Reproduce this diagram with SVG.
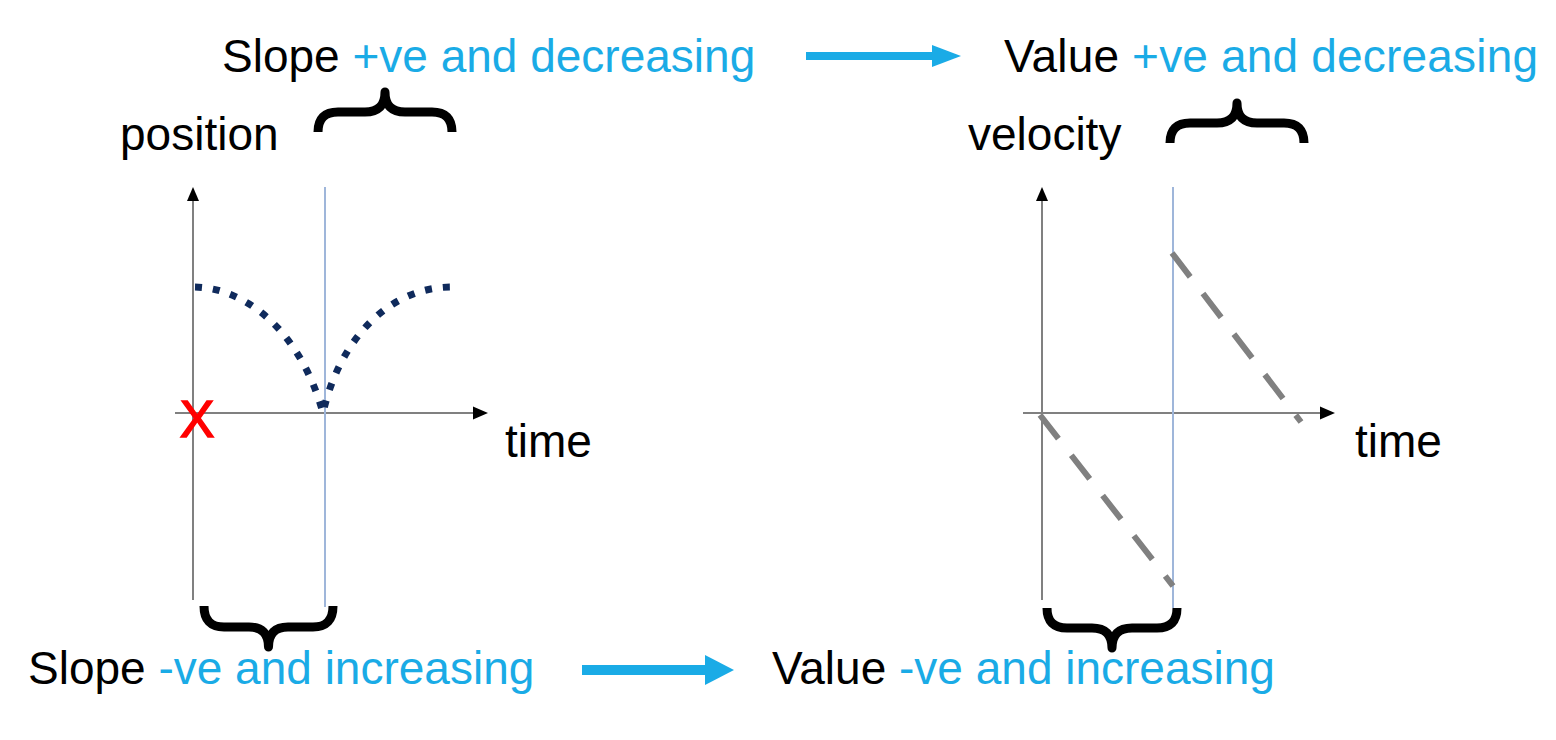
<svg xmlns="http://www.w3.org/2000/svg" width="1556" height="740" viewBox="0 0 1556 740">
<defs>
<style>
text{font-family:"Liberation Sans",Arial,sans-serif;font-size:46px;fill:#000}
.b{fill:#1AABE6}
.axis{stroke:#808080;stroke-width:2;fill:none}
.guide{stroke:#9FB6DA;stroke-width:2;fill:none}
.brace{stroke:#000;stroke-width:9;fill:none;stroke-linejoin:round}
.head{fill:#000}
.dots{stroke:#0F2A5C;stroke-width:7;fill:none;stroke-dasharray:7 11}
.dash{stroke:#808080;stroke-width:6;fill:none;stroke-dasharray:30 21}
.arrow{fill:#1AABE6}
</style>
</defs>
<rect width="1556" height="740" fill="#fff"/>

<g id="top-left-label">
<text x="222" y="72">Slope <tspan class="b">+ve and decreasing</tspan></text>
</g>
<g id="top-right-label">
<text x="1004" y="72" textLength="534">Value <tspan class="b">+ve and decreasing</tspan></text>
</g>
<g id="bottom-left-label">
<text x="28" y="684">Slope <tspan class="b">-ve and increasing</tspan></text>
</g>
<g id="bottom-right-label">
<text x="772" y="684">Value <tspan class="b">-ve and increasing</tspan></text>
</g>

<g id="position-graph">
<text x="120" y="150">position</text>
<text x="505" y="457">time</text>
<line class="axis" x1="193" y1="198" x2="193" y2="600"/>
<polygon class="head" points="193,187 187,201 199,201"/>
<line class="axis" x1="175" y1="413" x2="476" y2="413"/>
<polygon class="head" points="488,413 473,406.5 473,419.5"/>
<line class="guide" x1="325" y1="187" x2="325" y2="607"/>
<path class="dots" d="M195,287 C245,288 300,330 323,413 C338,345 385,287 452,287"/>
<text x="197" y="437" text-anchor="middle" style="fill:#FF0000;stroke:#FF0000;stroke-width:1.5;font-size:52px">X</text>
</g>

<g id="velocity-graph">
<text x="968" y="150">velocity</text>
<text x="1355" y="457">time</text>
<line class="axis" x1="1042" y1="198" x2="1042" y2="600"/>
<polygon class="head" points="1042,187 1036,201 1048,201"/>
<line class="axis" x1="1023" y1="413" x2="1323" y2="413"/>
<polygon class="head" points="1335,413 1320,406.5 1320,419.5"/>
<line class="guide" x1="1173" y1="187" x2="1173" y2="608"/>
<path class="dash" d="M1172,253 L1301,422"/>
<path class="dash" d="M1040,415 L1173,586"/>
</g>

<g id="braces">
<path class="brace" d="M318,132 Q318,112 338,112 L365,112 Q385,112 385,92 Q385,112 405,112 L432,112 Q452,112 452,132"/>
<path class="brace" d="M1170,143 Q1170,123 1190,123 L1217,123 Q1237,123 1237,103 Q1237,123 1257,123 L1284,123 Q1304,123 1304,143"/>
<path class="brace" d="M204,606 Q204,627 224,627 L249,627 Q268.5,627 268.5,647 Q268.5,627 288,627 L313,627 Q333,627 333,606"/>
<path class="brace" d="M1047,608 Q1047,628 1067,628 L1092,628 Q1112,628 1112,648 Q1112,628 1132,628 L1157,628 Q1177,628 1177,608"/>
</g>

<g id="connectors">
<rect class="arrow" x="806" y="52" width="128" height="8"/>
<polygon class="arrow" points="961,56 932,45 932,67"/>
<rect class="arrow" x="582" y="665" width="125" height="10"/>
<polygon class="arrow" points="734,670 705,655 705,685"/>
</g>
</svg>
